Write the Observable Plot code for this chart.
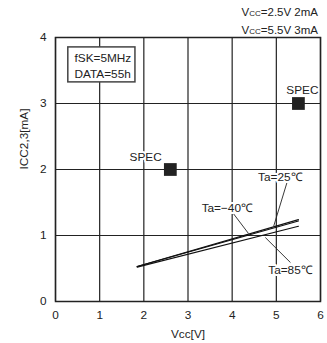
<!DOCTYPE html>
<html><head><meta charset="utf-8">
<script src="https://cdn.jsdelivr.net/npm/d3@7"></script>
<script src="https://cdn.jsdelivr.net/npm/@observablehq/plot@0.6"></script>
<style>
body{margin:0;background:#fff;font-family:"Liberation Sans",Arial,sans-serif;color:#222}
#wrap{position:relative;width:327px;height:343px}
#hdr{position:absolute;top:4px;right:9px;text-align:right;font-size:11.5px;line-height:16px;z-index:2}
.s{font-size:8px}
svg{display:block}
</style></head><body>
<div id="wrap"><div id="hdr"></div><div id="chart"></div></div>
<script>
const headerLines = [["2.5V", "2mA"], ["5.5V", "3mA"]];
const xTicks = [0, 1, 2, 3, 4, 5, 6];
const yTicks = [0, 1, 2, 3, 4];
const seriesNames = ["Ta=−40℃", "Ta=25℃", "Ta=85℃"];
const vccPts = [1.85, 5.5];
const iccM40 = [0.53, 1.24];
const icc25 = [0.53, 1.22];
const icc85 = [0.52, 1.14];
const specVcc = [2.6, 5.5];
const specIcc = [2.0, 3.0];
const specLabelX = [2.04, 5.59];
const specLabelY = [2.18, 3.2];
const legendText = ["fSK=5MHz", "DATA=55h"];
const legendBox = {x1: 0.29, x2: 1.81, y1: 3.32, y2: 3.85};
const legendTextX = 0.43;
const legendTextY = [3.69, 3.45];
const annLabelX = [3.89, 5.09, 5.32];
const annLabelY = [1.42, 1.89, 0.47];
const leaderFromX = [4.03, 5.24, 5.32];
const leaderFromY = [1.33, 1.80, 0.59];
const leaderToX = [4.37, 4.94, 4.75];
const leaderToY = [1.03, 1.14, 0.97];

document.getElementById("hdr").innerHTML = headerLines
  .map(([v, i]) => `<div>V<span class="s">CC</span>=${v} ${i}</div>`).join("");

const lineData = [];
[iccM40, icc25, icc85].forEach((arr, k) => arr.forEach((y, j) => lineData.push({s: seriesNames[k], x: vccPts[j], y})));
const specs = specVcc.map((x, i) => ({x, y: specIcc[i], lx: specLabelX[i], ly: specLabelY[i]}));
const anns = seriesNames.map((s, i) => ({s, x: annLabelX[i], y: annLabelY[i], x1: leaderFromX[i], y1: leaderFromY[i], x2: leaderToX[i], y2: leaderToY[i]}));
const font = "Liberation Sans, Arial, sans-serif";
const fs = 11.8;

const chart = Plot.plot({
  width: 327, height: 343,
  marginTop: 37, marginBottom: 42, marginLeft: 55, marginRight: 7,
  style: {fontFamily: font, fontSize: fs + "px", color: "#222", background: "#fff"},
  x: {domain: [0, 6], ticks: xTicks, tickFormat: "d"},
  y: {domain: [0, 4], ticks: yTicks, tickFormat: "d"},
  marks: [
    Plot.gridX(xTicks, {stroke: "#222", strokeOpacity: 1, strokeWidth: 1.2}),
    Plot.gridY(yTicks, {stroke: "#222", strokeOpacity: 1, strokeWidth: 1.2}),
    Plot.axisX({ticks: xTicks, tickFormat: "d", tickSize: 0, tickPadding: 9, label: null, fontSize: fs}),
    Plot.axisY({ticks: yTicks, tickFormat: "d", tickSize: 0, tickPadding: 9, label: null, fontSize: fs}),
    Plot.rect([legendBox], {x1: "x1", x2: "x2", y1: "y1", y2: "y2", fill: "white", stroke: "#444", strokeWidth: 1.5}),
    Plot.text(legendText, {x: legendTextX, y: (d, i) => legendTextY[i], text: d => d, textAnchor: "start", fontSize: fs, fill: "#222"}),
    Plot.line(lineData, {x: "x", y: "y", z: "s", stroke: "#111", strokeWidth: 1.2}),
    Plot.link(anns, {x1: "x1", y1: "y1", x2: "x2", y2: "y2", stroke: "#222", strokeWidth: 0.9}),
    Plot.text(anns, {x: "x", y: "y", text: "s", fontSize: fs, fill: "#222", stroke: "white", strokeWidth: 4}),
    Plot.dot(specs, {x: "x", y: "y", symbol: "square", r: 7.2, fill: "#222", stroke: "none"}),
    Plot.text(specs, {x: "lx", y: "ly", text: () => "SPEC", fontSize: fs, fill: "#222", stroke: "white", strokeWidth: 4}),
    Plot.frame({stroke: "#222", strokeWidth: 1.5}),
    Plot.text(["Vcc[V]"], {frameAnchor: "bottom", dy: 36, text: d => d, fontSize: fs, fill: "#222"}),
    Plot.text(["ICC2,3[mA]"], {frameAnchor: "left", dx: -31, rotate: -90, text: d => d, fontSize: fs, fill: "#222"})
  ]
});
document.getElementById("chart").appendChild(chart);
</script>
</body></html>
